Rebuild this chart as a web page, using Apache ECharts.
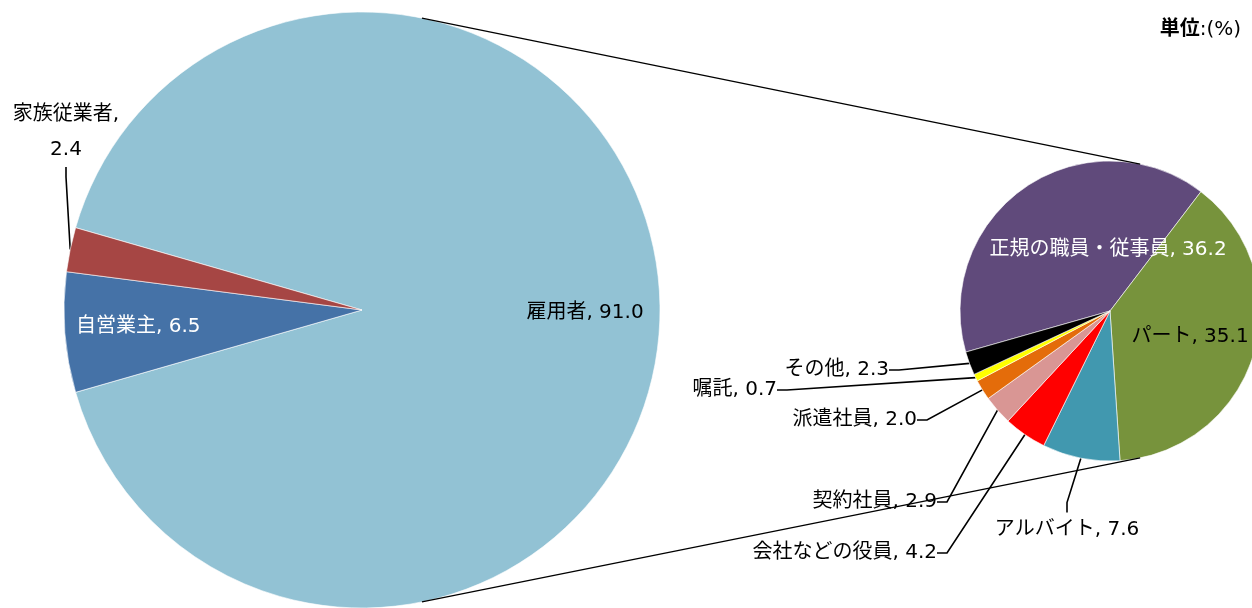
<!DOCTYPE html>
<html>
<head>
<meta charset="utf-8">
<script src="https://cdn.jsdelivr.net/npm/echarts@6/dist/echarts.min.js"></script>
<style>
  html, body { margin: 0; padding: 0; background: #fff; }
  #main { width: 1252px; height: 608px; }
</style>
</head>
<body>
<div id="main"></div>
<script>
// 就業者の内訳 (単位:%)
var mainNames = ['雇用者', '自営業主', '家族従業者'];
var mainValues = [91.0, 6.5, 2.4];
// 雇用者の内訳
var subNames = ['正規の職員・従事員', 'パート', 'アルバイト', '会社などの役員', '契約社員', '派遣社員', '嘱託', 'その他'];
var subValues = [36.2, 35.1, 7.6, 4.2, 2.9, 2.0, 0.7, 2.3];

var mainColors = ['#92C2D4', '#4572A7', '#A64644'];
var subColors = ['#604A7B', '#77933C', '#4198AF', '#FF0000', '#D99694', '#E46C0A', '#FFFF00', '#000000'];

var FONT = '"DejaVu Sans", "Noto Sans CJK JP", sans-serif';
var bigC = [362, 310], bigR = 298;
var smallC = [1110, 311], smallR = 150;
var linkDeg = 78.4; // 連結線の角度

// ラベル配置: [x, y, align, 色, 内側?, 改行?]
var labelPos = {
  '雇用者': [585, 313, 'center', '#000', true],
  '自営業主': [76, 327, 'left', '#fff', true],
  '家族従業者': [66, 132, 'center', '#000', false, true],
  '正規の職員・従事員': [1108, 250, 'center', '#fff', true],
  'パート': [1190, 337, 'center', '#000', true],
  'アルバイト': [1067, 530, 'center', '#000', false],
  '会社などの役員': [937, 553, 'right', '#000', false],
  '契約社員': [937, 502, 'right', '#000', false],
  '派遣社員': [917, 420, 'right', '#000', false],
  '嘱託': [777, 390, 'right', '#000', false],
  'その他': [889, 370, 'right', '#000', false]
};

function buildData(names, values, colors) {
  return names.map(function (n, i) {
    var p = labelPos[n];
    return {
      name: n,
      value: values[i],
      itemStyle: { color: colors[i] },
      label: { position: p[4] ? 'inside' : 'outside', color: p[3] },
      labelLine: { show: !p[4] }
    };
  });
}

function fmt(p) {
  var lp = labelPos[p.name];
  return p.name + (lp[5] ? ',\n' : ', ') + p.value.toFixed(1);
}

function layoutFor(names) {
  return function (params) {
    var p = labelPos[names[params.dataIndex]];
    return { x: p[0], y: p[1], align: p[2], verticalAlign: 'middle' };
  };
}

var bigShare = mainValues[0] / mainValues.reduce(function (a, b) { return a + b; }, 0);

function edgePt(c, r, deg) {
  var a = deg * Math.PI / 180;
  return [c[0] + r * Math.cos(a), c[1] - r * Math.sin(a)];
}
var t1 = edgePt(bigC, bigR, linkDeg), t2 = edgePt(smallC, smallR, linkDeg);
var b1 = edgePt(bigC, bigR, -linkDeg), b2 = edgePt(smallC, smallR, -linkDeg);

var commonLabel = {
  fontFamily: FONT,
  fontSize: 20,
  lineHeight: 35,
  formatter: fmt
};
var commonLine = {
  length: 10,
  length2: 10,
  smooth: false,
  lineStyle: { color: '#000', width: 1.6 }
};

var chart = echarts.init(document.getElementById('main'));
chart.setOption({
  animation: false,
  backgroundColor: '#fff',
  title: {
    right: 6,
    top: 15,
    text: '{b|単位}:(%)',
    textStyle: {
      fontFamily: FONT, fontSize: 20, color: '#000', fontWeight: 'normal',
      rich: { b: { fontFamily: FONT, fontSize: 20, fontWeight: 'bold', color: '#000' } }
    }
  },
  series: [
    {
      type: 'pie',
      center: bigC,
      radius: [0, bigR],
      startAngle: bigShare * 180,
      clockwise: true,
      avoidLabelOverlap: false,
      silent: true,
      itemStyle: { borderColor: '#fff', borderWidth: 0.6 },
      label: Object.assign({ position: 'outside' }, commonLabel),
      labelLine: commonLine,
      labelLayout: layoutFor(mainNames),
      data: buildData(mainNames, mainValues, mainColors)
    },
    {
      type: 'pie',
      center: smallC,
      radius: [0, smallR],
      startAngle: 195.9,
      clockwise: true,
      avoidLabelOverlap: false,
      silent: true,
      itemStyle: { borderColor: '#fff', borderWidth: 0.6 },
      label: Object.assign({ position: 'outside' }, commonLabel),
      labelLine: commonLine,
      labelLayout: layoutFor(subNames),
      data: buildData(subNames, subValues, subColors)
    }
  ],
  graphic: [
    { type: 'line', z: 10, shape: { x1: t1[0], y1: t1[1], x2: t2[0], y2: t2[1] }, style: { stroke: '#000', lineWidth: 1.3 } },
    { type: 'line', z: 10, shape: { x1: b1[0], y1: b1[1], x2: b2[0], y2: b2[1] }, style: { stroke: '#000', lineWidth: 1.3 } }
  ]
});
</script>
</body>
</html>
